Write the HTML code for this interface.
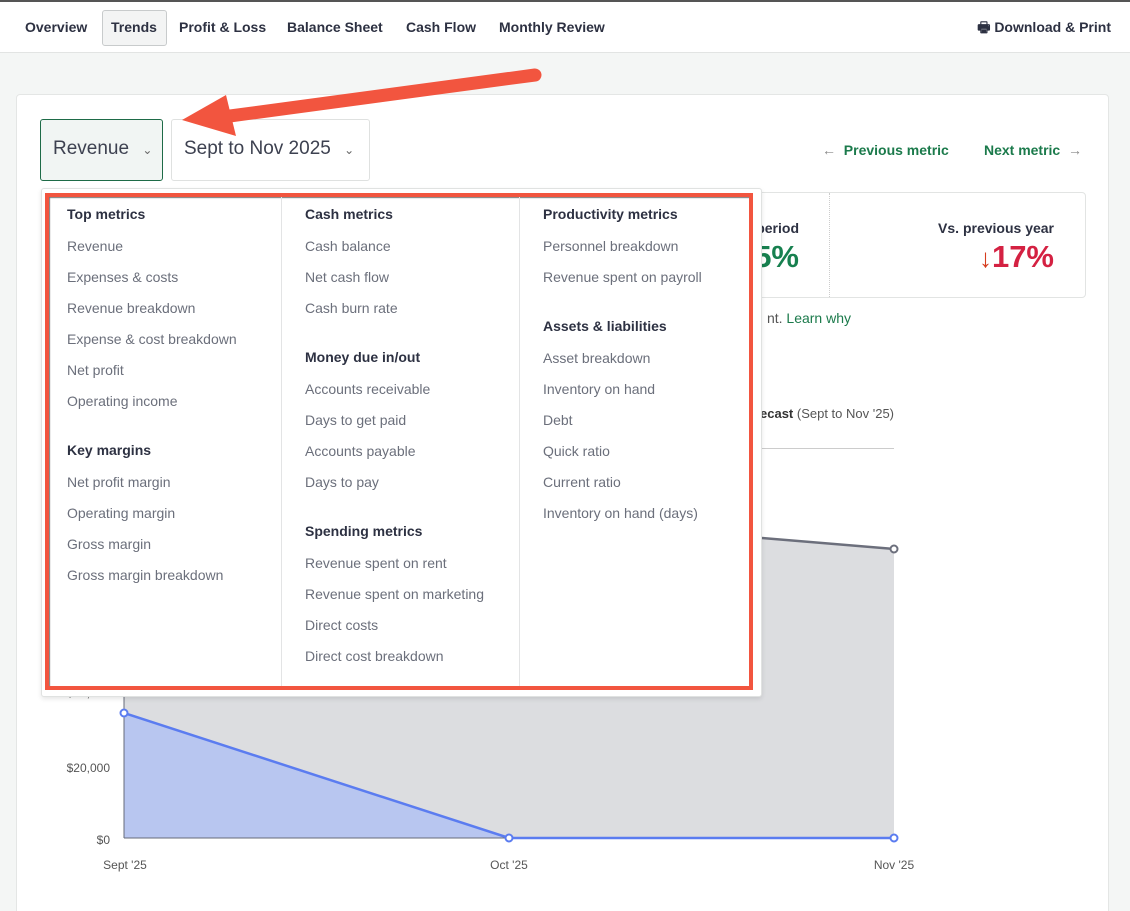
<!DOCTYPE html>
<html style="overflow:hidden"><head><style>
html,body{margin:0;width:1130px;height:911px;overflow:hidden}
body{background:#f4f6f5;font-family:"Liberation Sans",sans-serif;position:relative;color:#2d3142}
.a{position:absolute;white-space:nowrap;line-height:18px}
.r{position:absolute;white-space:nowrap;line-height:18px;text-align:right}
.h{font-weight:bold;font-size:14px;color:#2d3142}
.i{font-size:14px;color:#6b6f7b}
.nav{font-weight:bold;font-size:14px;color:#2d3142}
</style></head><body>
<div style="position:absolute;left:0;top:0;width:1130px;height:53px;background:#fff;border-top:2px solid #555;border-bottom:1px solid #e2e4e3;box-sizing:border-box"></div>
<div style="position:absolute;left:102px;top:10px;width:63px;height:34px;background:#f3f4f4;border:1px solid #c8cbcc;border-radius:3px"></div>
<div class="a nav" style="left:25px;top:18px">Overview</div>
<div class="a nav" style="left:111px;top:18px">Trends</div>
<div class="a nav" style="left:179px;top:18px">Profit &amp; Loss</div>
<div class="a nav" style="left:287px;top:18px">Balance Sheet</div>
<div class="a nav" style="left:406px;top:18px">Cash Flow</div>
<div class="a nav" style="left:499px;top:18px">Monthly Review</div>
<div class="r nav" style="right:19px;top:18px">🖶 Download &amp; Print</div>

<div style="position:absolute;left:16px;top:94px;width:1093px;height:830px;background:#fff;border:1px solid #e4e6e5;border-radius:4px;box-sizing:border-box"></div>
<div style="position:absolute;left:40px;top:119px;width:121px;height:60px;background:#f1f5f3;border:1px solid #1e6b47;border-radius:3px"></div>
<div class="a" style="left:53px;top:140px;font-size:19px;color:#3d4150">Revenue <span style="font-size:12px;color:#666;margin-left:8px">⌄</span></div>
<div style="position:absolute;left:171px;top:119px;width:197px;height:60px;background:#fff;border:1px solid #dfe1e0;border-radius:3px"></div>
<div class="a" style="left:184px;top:140px;font-size:19px;color:#3d4150">Sept to Nov 2025 <span style="font-size:12px;color:#666;margin-left:8px">⌄</span></div>
<div class="a" style="left:822px;top:141px;font-size:14px;font-weight:bold;color:#1b7a4b"><span style="color:#888;font-weight:normal">←</span>&nbsp; Previous metric</div>
<div class="r" style="right:48px;top:141px;font-size:14px;font-weight:bold;color:#1b7a4b">Next metric &nbsp;<span style="color:#888;font-weight:normal">→</span></div>

<div style="position:absolute;left:700px;top:192px;width:384px;height:104px;border:1px solid #e2e4e3;border-radius:4px"></div>
<div style="position:absolute;left:829px;top:193px;height:104px;border-left:1px dotted #ccc"></div>
<div class="r" style="right:331px;top:219px;font-size:14px;font-weight:bold">period</div>
<div class="r" style="right:331px;top:240px;font-size:31px;line-height:34px;font-weight:bold;color:#17804f">5%</div>
<div class="r" style="right:76px;top:219px;font-size:14px;font-weight:bold">Vs. previous year</div>
<div class="r" style="right:76px;top:240px;font-size:31px;line-height:34px;font-weight:bold;color:#d42142"><span style="color:#d63c1e;font-size:26px">↓</span>17%</div>
<div class="r" style="right:279px;top:309px;font-size:14px;color:#555">nt. <span style="color:#1b7a4b">Learn why</span></div>
<div class="r" style="right:236px;top:405px;font-size:13px;color:#555"><b style="color:#333">ecast</b> (Sept to Nov '25)</div>
<div style="position:absolute;left:755px;top:448px;width:139px;border-top:1px solid #ccc"></div>

<svg style="position:absolute;left:0;top:0" width="1130" height="911">
<polygon points="124,460 509,517 894,549 894,838 124,838" fill="#dcdde0"/>
<polyline points="509,517 894,549" fill="none" stroke="#6c6f7c" stroke-width="2.5"/>
<polygon points="124,713 509,838 124,838" fill="#b8c6f0"/>
<line x1="124" y1="460" x2="124" y2="838" stroke="#666b7a" stroke-width="1"/>
<line x1="124" y1="838" x2="894" y2="838" stroke="#666b7a" stroke-width="1"/>
<polyline points="124,713 509,838 894,838" fill="none" stroke="#5b7cf0" stroke-width="2.5"/>
<circle cx="124" cy="713" r="3.5" fill="#fff" stroke="#5b7cf0" stroke-width="2"/>
<circle cx="509" cy="838" r="3.5" fill="#fff" stroke="#5b7cf0" stroke-width="2"/>
<circle cx="894" cy="838" r="3.5" fill="#fff" stroke="#5b7cf0" stroke-width="2"/>
<circle cx="894" cy="549" r="3.5" fill="#fff" stroke="#6c6f7c" stroke-width="2"/>
<g font-family="Liberation Sans,sans-serif" font-size="12" fill="#555">
<text x="110" y="697" text-anchor="end">$40,000</text>
<text x="110" y="772" text-anchor="end">$20,000</text>
<text x="110" y="844" text-anchor="end">$0</text>
<text x="125" y="869" text-anchor="middle">Sept '25</text>
<text x="509" y="869" text-anchor="middle">Oct '25</text>
<text x="894" y="869" text-anchor="middle">Nov '25</text>
</g>
</svg>

<div style="position:absolute;left:41px;top:188px;width:719px;height:507px;background:#fff;border:1px solid #e0e2e1;border-radius:3px;box-shadow:0 2px 5px rgba(0,0,0,.1)"></div>
<div style="position:absolute;left:45px;top:193px;width:700px;height:489px;border:4px solid #f2553f;box-shadow:inset 1px 1px 1px #777"></div>
<div style="position:absolute;left:281px;top:197px;height:489px;border-left:1px solid #e3e4e5"></div>
<div style="position:absolute;left:519px;top:197px;height:489px;border-left:1px solid #e3e4e5"></div>

<div class="a h" style="left:67px;top:205px">Top metrics</div>
<div class="a i" style="left:67px;top:237px">Revenue</div>
<div class="a i" style="left:67px;top:268px">Expenses &amp; costs</div>
<div class="a i" style="left:67px;top:299px">Revenue breakdown</div>
<div class="a i" style="left:67px;top:330px">Expense &amp; cost breakdown</div>
<div class="a i" style="left:67px;top:361px">Net profit</div>
<div class="a i" style="left:67px;top:392px">Operating income</div>
<div class="a h" style="left:67px;top:441px">Key margins</div>
<div class="a i" style="left:67px;top:473px">Net profit margin</div>
<div class="a i" style="left:67px;top:504px">Operating margin</div>
<div class="a i" style="left:67px;top:535px">Gross margin</div>
<div class="a i" style="left:67px;top:566px">Gross margin breakdown</div>

<div class="a h" style="left:305px;top:205px">Cash metrics</div>
<div class="a i" style="left:305px;top:237px">Cash balance</div>
<div class="a i" style="left:305px;top:268px">Net cash flow</div>
<div class="a i" style="left:305px;top:299px">Cash burn rate</div>
<div class="a h" style="left:305px;top:348px">Money due in/out</div>
<div class="a i" style="left:305px;top:380px">Accounts receivable</div>
<div class="a i" style="left:305px;top:411px">Days to get paid</div>
<div class="a i" style="left:305px;top:442px">Accounts payable</div>
<div class="a i" style="left:305px;top:473px">Days to pay</div>
<div class="a h" style="left:305px;top:522px">Spending metrics</div>
<div class="a i" style="left:305px;top:554px">Revenue spent on rent</div>
<div class="a i" style="left:305px;top:585px">Revenue spent on marketing</div>
<div class="a i" style="left:305px;top:616px">Direct costs</div>
<div class="a i" style="left:305px;top:647px">Direct cost breakdown</div>

<div class="a h" style="left:543px;top:205px">Productivity metrics</div>
<div class="a i" style="left:543px;top:237px">Personnel breakdown</div>
<div class="a i" style="left:543px;top:268px">Revenue spent on payroll</div>
<div class="a h" style="left:543px;top:317px">Assets &amp; liabilities</div>
<div class="a i" style="left:543px;top:349px">Asset breakdown</div>
<div class="a i" style="left:543px;top:380px">Inventory on hand</div>
<div class="a i" style="left:543px;top:411px">Debt</div>
<div class="a i" style="left:543px;top:442px">Quick ratio</div>
<div class="a i" style="left:543px;top:473px">Current ratio</div>
<div class="a i" style="left:543px;top:504px">Inventory on hand (days)</div>

<svg style="position:absolute;left:0;top:0" width="1130" height="200">
<line x1="535" y1="75" x2="215" y2="118" stroke="#f2553f" stroke-width="13" stroke-linecap="round"/>
<polygon points="182,120 226,95 236,136" fill="#f2553f"/>
</svg>
</body></html>
